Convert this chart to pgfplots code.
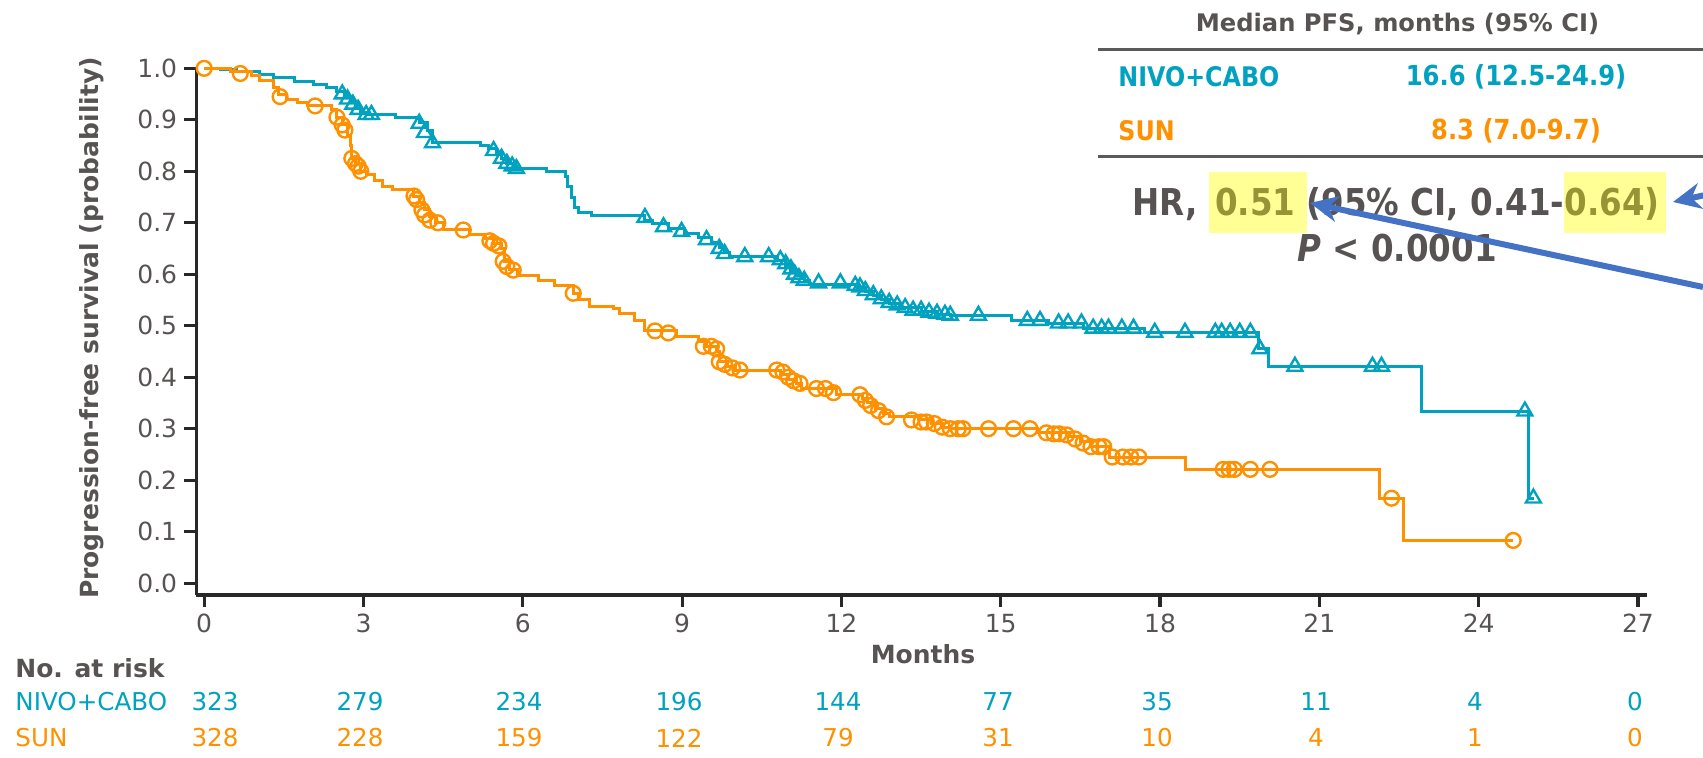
\documentclass[border=0pt]{standalone}
\usepackage{pgfplots}
\pgfplotsset{compat=1.18}
\usepackage{fontspec}
\setmainfont{DejaVu Sans}
\newfontfamily\cond[FakeStretch=0.88]{DejaVu Sans}
\usetikzlibrary{arrows.meta}
\definecolor{nivo}{RGB}{0,162,192}
\definecolor{sun}{RGB}{255,145,0}
\definecolor{txt}{RGB}{88,83,83}
\definecolor{axc}{RGB}{40,40,40}
\definecolor{hl}{RGB}{255,255,150}
\definecolor{olv}{RGB}{150,148,52}
\definecolor{arr}{RGB}{68,114,196}
\definecolor{rule}{RGB}{90,90,90}
\begin{document}
\begin{tikzpicture}[x=1pt,y=1pt]
\useasboundingbox (0,0) rectangle (851.5,379);
\begin{axis}[
  at={(98.1pt,81.5pt)}, anchor=south west,
  scale only axis, width=725.4pt, height=264.1pt,
  xmin=-0.15, xmax=27.17, ymin=-0.023, ymax=1.003,
  axis x line*=bottom, axis y line*=left,
  axis line style={line width=1.6pt, color=axc},
  xtick={0,3,6,9,12,15,18,21,24,27},
  xticklabels={0,3,6,9,12,15,18,21,24,27},
  ytick={0,0.1,0.2,0.3,0.4,0.5,0.6,0.7,0.8,0.9,1.0},
  yticklabels={0.0,0.1,0.2,0.3,0.4,0.5,0.6,0.7,0.8,0.9,1.0},
  tick align=outside, major tick length=6pt,
  tick style={line width=1.6pt, color=axc},
  ticklabel style={font=\fontsize{12.5}{14}\selectfont, text=txt},
  clip=false,
]
\addplot[const plot, nivo, line width=1.5pt, no marks] table {
0 1.0
0.3 0.997
0.6 0.994
1.05 0.988
1.3 0.982
1.7 0.975
2.05 0.968
2.3 0.962
2.5 0.955
2.65 0.945
2.75 0.935
2.85 0.925
2.95 0.915
3.05 0.91
3.6 0.905
4.05 0.895
4.2 0.88
4.3 0.855
5.2 0.85
5.35 0.845
5.5 0.835
5.6 0.825
5.7 0.815
5.85 0.805
6.45 0.80
6.8 0.79
6.85 0.77
6.92 0.75
6.98 0.73
7.05 0.72
7.3 0.715
8.3 0.705
8.45 0.698
8.75 0.688
9.05 0.68
9.3 0.672
9.55 0.662
9.7 0.652
9.8 0.642
9.9 0.634
10.8 0.627
10.95 0.617
11.05 0.607
11.15 0.597
11.3 0.587
11.4 0.581
12.3 0.575
12.45 0.567
12.6 0.558
12.75 0.55
12.9 0.543
13.1 0.535
13.5 0.528
13.8 0.522
14.05 0.52
15.2 0.51
15.9 0.505
16.55 0.495
17.7 0.487
19.85 0.455
20.05 0.421
22.93 0.334
24.94 0.165
25.05 0.165
};
\addplot[only marks, nivo, mark=triangle, mark size=4.3pt, mark options={line width=1.2pt}] table {
2.6 0.95
2.7 0.94
2.8 0.93
2.9 0.92
3.05 0.91
3.15 0.91
4.05 0.893
4.15 0.875
4.3 0.855
5.45 0.84
5.6 0.825
5.7 0.815
5.8 0.81
5.88 0.805
8.3 0.71
8.65 0.692
8.99 0.683
9.46 0.667
9.7 0.65
9.8 0.64
10.18 0.634
10.63 0.634
10.85 0.628
10.95 0.62
11.05 0.61
11.12 0.60
11.2 0.593
11.3 0.588
11.57 0.583
11.98 0.583
12.26 0.578
12.35 0.575
12.45 0.568
12.6 0.56
12.75 0.552
12.9 0.545
13.05 0.54
13.2 0.535
13.35 0.53
13.5 0.53
13.65 0.526
13.8 0.524
13.95 0.522
14.05 0.52
14.58 0.52
15.5 0.51
15.74 0.51
16.09 0.505
16.27 0.505
16.52 0.505
16.74 0.495
16.9 0.495
17.03 0.495
17.28 0.495
17.5 0.495
17.9 0.487
18.47 0.487
19.04 0.487
19.16 0.487
19.32 0.487
19.5 0.487
19.7 0.487
19.88 0.455
20.54 0.421
22.0 0.421
22.17 0.421
24.87 0.334
25.03 0.165
};
\addplot[const plot, sun, line width=1.5pt, no marks] table {
0 1.0
0.5 0.994
0.9 0.987
1.05 0.977
1.3 0.963
1.4 0.95
1.55 0.94
1.75 0.933
1.95 0.927
2.4 0.92
2.5 0.905
2.6 0.89
2.7 0.87
2.75 0.85
2.78 0.825
2.85 0.815
2.95 0.80
3.05 0.793
3.2 0.783
3.35 0.77
3.55 0.764
3.95 0.752
4.05 0.74
4.15 0.725
4.25 0.712
4.35 0.70
4.5 0.686
5.0 0.678
5.3 0.67
5.45 0.66
5.6 0.65
5.65 0.625
5.75 0.61
5.9 0.598
6.3 0.588
6.6 0.579
6.95 0.563
7.05 0.55
7.25 0.537
7.7 0.534
7.83 0.524
8.1 0.511
8.3 0.49
8.9 0.479
9.3 0.47
9.45 0.46
9.65 0.45
9.7 0.43
9.85 0.42
10.0 0.414
10.85 0.405
11.0 0.395
11.15 0.388
11.25 0.378
11.9 0.366
12.4 0.358
12.5 0.35
12.65 0.34
12.8 0.33
12.9 0.323
13.45 0.317
13.7 0.31
13.9 0.303
14.05 0.30
15.7 0.292
16.3 0.285
16.5 0.275
16.7 0.265
17.05 0.245
18.47 0.221
22.14 0.165
22.58 0.083
24.65 0.083
};
\addplot[only marks, sun, mark=o, mark size=3.7pt, mark options={line width=1.2pt}] table {
0 1.0
0.68 0.99
1.43 0.945
2.09 0.927
2.5 0.905
2.6 0.89
2.65 0.88
2.78 0.825
2.85 0.815
2.9 0.81
2.95 0.80
3.95 0.752
4.0 0.745
4.1 0.725
4.15 0.715
4.25 0.705
4.4 0.70
4.88 0.686
5.38 0.665
5.45 0.66
5.55 0.655
5.63 0.625
5.7 0.615
5.82 0.608
6.95 0.563
8.49 0.49
8.74 0.486
9.4 0.46
9.55 0.46
9.65 0.455
9.7 0.43
9.8 0.425
9.95 0.418
10.09 0.414
10.78 0.414
10.9 0.41
11.0 0.40
11.1 0.393
11.22 0.388
11.53 0.378
11.7 0.378
11.85 0.37
12.35 0.366
12.45 0.355
12.55 0.345
12.7 0.335
12.85 0.323
13.32 0.317
13.5 0.313
13.6 0.313
13.75 0.31
13.9 0.303
14.05 0.30
14.2 0.30
14.29 0.30
14.77 0.30
15.24 0.30
15.55 0.30
15.86 0.292
16.0 0.29
16.1 0.29
16.24 0.288
16.4 0.28
16.55 0.272
16.7 0.265
16.85 0.265
16.94 0.265
17.1 0.245
17.3 0.245
17.45 0.245
17.6 0.245
19.19 0.221
19.3 0.221
19.4 0.221
19.7 0.221
20.07 0.221
22.36 0.165
24.65 0.083
};
\end{axis}
% axis titles
\node[rotate=90, font=\fontsize{12.5}{14}\selectfont\bfseries, text=txt] at (46,215) {Progression-free survival (probability)};
\node[font=\fontsize{12.5}{14}\selectfont\bfseries, text=txt] at (461.5,52) {Months};
% risk table
\node[anchor=west, font=\fontsize{12.5}{14}\selectfont\bfseries, text=txt, inner sep=0] at (7.5,45) {No. at risk};
\node[anchor=west, font=\fontsize{12.3}{14}\selectfont, text=nivo, inner sep=0] at (7.5,28) {NIVO+CABO};
\node[anchor=west, font=\fontsize{12.3}{14}\selectfont, text=sun, inner sep=0] at (7.5,10) {SUN};
\foreach \xx/\a/\b in {107.5/323/328, 180/279/228, 259.5/234/159, 339.5/196/122, 419/144/79, 499/77/31, 578.5/35/10, 658/11/4, 737.5/4/1, 817.5/0/0} {
  \node[font=\fontsize{12.3}{14}\selectfont, text=nivo] at (\xx,28) {\a};
  \node[font=\fontsize{12.3}{14}\selectfont, text=sun] at (\xx,10) {\b};
}
% median table
\node[font=\fontsize{12.1}{16}\selectfont\bfseries, text=txt] at (698.75,367) {Median PFS, months (95\% CI)};
\draw[line width=1.5pt, rule] (549,354) -- (851.5,354);
\node[anchor=west, inner sep=0, font=\cond\fontsize{13.5}{16}\selectfont\bfseries, text=nivo] at (559,340.5) {NIVO+CABO};
\node[font=\cond\fontsize{13.8}{16}\selectfont\bfseries, text=nivo] at (758,340.5) {16.6 (12.5-24.9)};
\node[anchor=west, inner sep=0, font=\cond\fontsize{13.5}{16}\selectfont\bfseries, text=sun] at (559,313.5) {SUN};
\node[font=\cond\fontsize{13.8}{16}\selectfont\bfseries, text=sun] at (758,313.5) {8.3 (7.0-9.7)};
\draw[line width=1.5pt, rule] (549,300.5) -- (851.5,300.5);
\node[anchor=base, inner sep=0, font=\cond\fontsize{18.5}{22}\selectfont\bfseries, text=txt] at (699.5,271)
  {HR,\ {\fboxsep=0pt\colorbox{hl}{\rule[-8.5pt]{0pt}{30.5pt}\,\textcolor{olv}{0.51}\ }}(95\% CI, 0.41-{\fboxsep=0pt\colorbox{hl}{\rule[-8.5pt]{0pt}{30.5pt}\textcolor{olv}{0.64)}\,}}};
\node[font=\cond\fontsize{18.5}{22}\selectfont\bfseries, text=txt] at (698.5,255) {\textit{P} < 0.0001};
% arrows
\draw[arr, line width=3pt, -{Stealth[length=14pt, width=13pt]}] (851.5,235.5) -- (655,277.5);
\draw[arr, line width=3pt, -{Stealth[length=14pt, width=13pt]}] (862,283.5) -- (836.5,278);
\end{tikzpicture}
\end{document}
